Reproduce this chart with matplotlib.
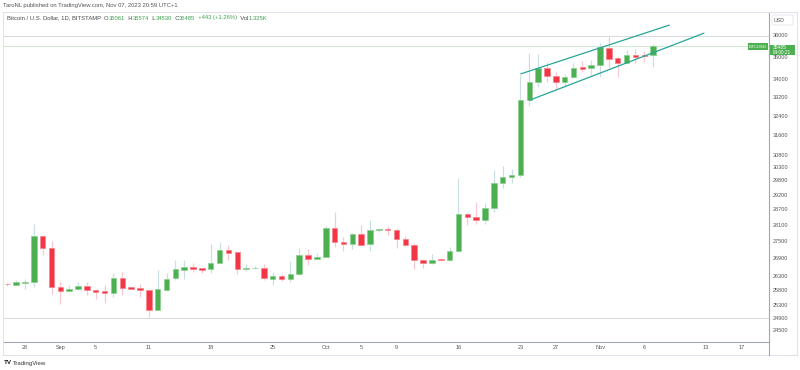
import matplotlib
matplotlib.use("Agg")
import matplotlib.pyplot as plt
import matplotlib.dates as mdates
import matplotlib.ticker as mticker
from matplotlib.patches import Rectangle, FancyBboxPatch
from matplotlib.lines import Line2D
import pandas as pd
import numpy as np

plt.rcParams['font.family'] = ['Liberation Sans', 'DejaVu Sans']

# ---------------- data ----------------
start_date = "2023-08-26"
opens = [26030, 25990, 26060, 26080, 27705, 27280, 25900, 25778, 25835, 25946,
         25812, 25778, 25720, 26228, 25902, 25868, 25820, 25135, 25812, 26217,
         26482, 26597, 26563, 26517, 26747, 27195, 27112, 26540, 26555, 26563,
         26193, 26276, 26172, 26345, 27006, 26886, 26936, 27974, 27490, 27397,
         27767, 27397, 27922, 27948, 27912, 27578, 27372, 26851, 26726, 26876,
         26830, 27148, 28501, 28390, 28291, 28714, 29667, 29900, 29977, 33059,
         33871, 34469, 34124, 33871, 34066, 34528, 34469, 34632, 35409, 34922,
         34695, 35073, 35080, 35061]
highs = [26050, 26140, 26195, 28120, 27720, 27505, 26116, 25970, 26092, 26072,
         25855, 25980, 26400, 26414, 25905, 26014, 25825, 26503, 26400, 26830,
         26840, 26735, 26570, 27408, 27480, 27372, 27120, 26700, 26620, 26711,
         26414, 26356, 26805, 27276, 27220, 27077, 28058, 28575, 27648, 27815,
         28095, 28268, 27959, 28070, 27985, 27706, 27444, 26860, 27063, 26922,
         27290, 29884, 28588, 28950, 28913, 30185, 30344, 30225, 34150, 35151,
         35105, 34740, 34318, 34200, 34722, 34800, 34860, 35612, 35920, 34996,
         35303, 35349, 35250, 35574]
lows = [25960, 25970, 25855, 25900, 27005, 25690, 25335, 25770, 25812, 25633,
        25520, 25377, 25586, 25633, 25840, 25586, 24907, 25130, 25770, 26150,
        26193, 26425, 26400, 26380, 26724, 26840, 26355, 26460, 26520, 26150,
        25980, 26106, 26092, 26335, 26677, 26880, 26930, 27312, 27168, 27220,
        27370, 27170, 27826, 27720, 27276, 27337, 26538, 26551, 26712, 26795,
        26820, 27112, 28084, 28132, 28132, 28587, 29474, 29667, 29900, 32828,
        33651, 33871, 33507, 33651, 34036, 34317, 34169, 34095, 34468, 34095,
        34690, 34695, 34770, 34530]
closes = [26000, 26070, 26090, 27705, 27280, 25900, 25770, 25855, 25946, 25800,
          25755, 25720, 26228, 25888, 25845, 25812, 25135, 25835, 26193, 26517,
          26597, 26528, 26504, 26747, 27183, 27100, 26538, 26563, 26575, 26228,
          26276, 26172, 26345, 27006, 26886, 26947, 27974, 27480, 27418, 27767,
          27380, 27922, 27959, 27900, 27578, 27372, 26851, 26726, 26851, 26830,
          27159, 28501, 28390, 28291, 28714, 29667, 29900, 29989, 33059, 33871,
          34469, 34124, 33871, 34066, 34496, 34452, 34618, 35427, 34904, 34695,
          35073, 34996, 35042, 35485]
volume_label = "1.325K"

# rising-wedge trend lines (date, price)
upper_line_dates = ["2023-10-23 00:00", "2023-11-08 21:00"]
upper_line_prices = [34214, 36473]
lower_line_dates = ["2023-10-24 00:00", "2023-11-12 19:00"]
lower_line_prices = [33059, 36094]

# horizontal levels
h_levels = [35930, 24900]

y_ticks = [36000, 35000, 34000, 33200, 32400, 31600, 30800, 30300, 29800, 29200,
           28700, 28100, 27500, 26900, 26300, 25800, 25300, 24900, 24500]
x_tick_dates = ["2023-08-28", "2023-09-01", "2023-09-05", "2023-09-11", "2023-09-18",
                "2023-09-25", "2023-10-01", "2023-10-05", "2023-10-09", "2023-10-16",
                "2023-10-23", "2023-10-27", "2023-11-01", "2023-11-06", "2023-11-13",
                "2023-11-17"]
x_tick_labels = ["28", "Sep", "5", "11", "18", "25", "Oct", "5", "9", "16", "23", "27",
                 "Nov", "6", "13", "17"]

# ---------------- figure ----------------
W, H = 800, 370
fig = plt.figure(figsize=(W / 100, H / 100), dpi=100)
fig.patch.set_facecolor("white")

def fx(px):
    return px / W

def fy(py):
    return 1 - py / H

ax = fig.add_axes([fx(4), fy(342), fx(769) - fx(4), fy(12) - fy(342)])
ax.set_facecolor("white")

dates = mdates.date2num(pd.date_range(start_date, periods=len(opens)).to_pydatetime())

GREEN = "#4caf50"
RED = "#f23645"
GREEN_EDGE = "#8bcf8e"
RED_EDGE = "#f7828c"
GREEN_WICK = "#c9dfe4"
RED_WICK = "#f9c8ce"

o = np.array(opens, float)
c = np.array(closes, float)
hi = np.array(highs, float)
lo = np.array(lows, float)
up = c >= o

ax.vlines(dates[up], lo[up], hi[up], color=GREEN_WICK, lw=0.9, zorder=2)
ax.vlines(dates[~up], lo[~up], hi[~up], color=RED_WICK, lw=0.9, zorder=2)

bottoms = np.minimum(o, c)
heights = np.abs(c - o)
ax.bar(dates[up], heights[up], bottom=bottoms[up], width=0.62, color=GREEN,
       edgecolor=GREEN_EDGE, linewidth=0.5, zorder=3)
ax.bar(dates[~up], heights[~up], bottom=bottoms[~up], width=0.62, color=RED,
       edgecolor=RED_EDGE, linewidth=0.5, zorder=3)

for lvl in h_levels:
    ax.axhline(lvl, color="#d6d8de", lw=0.7, zorder=1)
ax.axhline(closes[-1], color=GREEN, lw=0.6, alpha=0.3, zorder=1)

TEAL = "#26a69a"
ax.plot(mdates.date2num(pd.to_datetime(upper_line_dates).to_pydatetime()), upper_line_prices,
        color=TEAL, lw=0.9, zorder=4, solid_capstyle="butt")
ax.plot(mdates.date2num(pd.to_datetime(lower_line_dates).to_pydatetime()), lower_line_prices,
        color=TEAL, lw=0.9, zorder=4, solid_capstyle="butt")

ax.set_yscale("log")
ax.set_ylim(24118, 37097)
ax.set_xlim(dates[0] - 0.37, dates[0] + 86.1)

ax.yaxis.tick_right()
ax.yaxis.set_major_locator(mticker.FixedLocator(y_ticks))
ax.yaxis.set_major_formatter(mticker.FixedFormatter([str(v) for v in y_ticks]))
ax.yaxis.set_minor_locator(mticker.NullLocator())
ax.yaxis.set_minor_formatter(mticker.NullFormatter())
ax.tick_params(axis="y", length=0, pad=3, labelsize=4, labelcolor="#555555")

ax.set_xticks(mdates.date2num(pd.to_datetime(x_tick_dates).to_pydatetime()))
ax.set_xticklabels(x_tick_labels)
ax.tick_params(axis="x", length=0, pad=2.5, labelsize=4, labelcolor="#555555")

for s in ["left", "top"]:
    ax.spines[s].set_visible(False)
for s in ["right", "bottom"]:
    ax.spines[s].set_color("#a3a6ae")
    ax.spines[s].set_linewidth(0.8)

# outer frame of the pane
frame_color = "#e0e3eb"
fig.add_artist(Line2D([fx(3), fx(797)], [fy(12), fy(12)], color=frame_color, lw=0.8))
fig.add_artist(Line2D([fx(3), fx(797)], [fy(355), fy(355)], color=frame_color, lw=0.8))
fig.add_artist(Line2D([fx(3), fx(3)], [fy(12), fy(355)], color=frame_color, lw=0.8))
fig.add_artist(Line2D([fx(797), fx(797)], [fy(12), fy(355)], color=frame_color, lw=0.8))
fig.add_artist(Line2D([fx(769), fx(769)], [fy(342), fy(355)], color="#a3a6ae", lw=0.8))

# header
fig.text(fx(3), fy(6), "TaroNL published on TradingView.com, Nov 07, 2023 20:59 UTC+1",
         fontsize=4.2, color="#555555", va="center", ha="left")

# legend line with OHLC values
chg = closes[-1] - closes[-2]
pct = chg / closes[-2] * 100
DARK = "#4a4a4a"
LG = "#3fa34d"
pieces = [("Bitcoin / U.S. Dollar, 1D, BITSTAMP  ", DARK),
          ("O", DARK), (f"{opens[-1]}", LG),
          ("  H", DARK), (f"{highs[-1]}", LG),
          ("  L", DARK), (f"{lows[-1]}", LG),
          ("  C", DARK), (f"{closes[-1]}", LG),
          (f"  {chg:+d} ({pct:+.2f}%)", LG),
          ("  Vol", DARK), (volume_label, LG)]
fig.canvas.draw()
renderer = fig.canvas.get_renderer()
xpos = 7
for txt, col in pieces:
    t = fig.text(fx(xpos), fy(18), txt, fontsize=4.2, color=col, va="center", ha="left")
    bb = t.get_window_extent(renderer=renderer)
    xpos += bb.width

# USD box
fig.add_artist(FancyBboxPatch((fx(772), fy(25)), fx(21), fy(15) - fy(25),
                              boxstyle="round,pad=0,rounding_size=0.003",
                              facecolor="white", edgecolor="#e0e3eb", lw=0.6))
fig.text(fx(774), fy(20), "USD", fontsize=3.8, color="#555555", va="center", ha="left")

# last price label on the axis
fig.add_artist(Rectangle((fx(770), fy(54.5)), fx(25), fy(44.5) - fy(54.5),
                         facecolor=GREEN, edgecolor="none", zorder=5))
fig.text(fx(773), fy(47.3), f"{closes[-1]}", fontsize=3.6, color="white",
         va="center", ha="left", zorder=6)
fig.text(fx(773), fy(52.0), "04:00:21", fontsize=3.4, color="white",
         va="center", ha="left", zorder=6)

# symbol label
fig.add_artist(Rectangle((fx(748), fy(50)), fx(20), fy(43) - fy(50),
                         facecolor=GREEN, edgecolor="none", zorder=5))
fig.text(fx(758), fy(46.5), "BTCUSD", fontsize=3.2, color="white",
         va="center", ha="center", zorder=6)

# footer logo
fig.text(fx(4), fy(363), "TV", fontsize=4.5, color="#131722", fontweight="bold",
         va="center", ha="left")
fig.text(fx(13), fy(363), "TradingView", fontsize=4.3, color="#333333",
         va="center", ha="left")

fig.savefig("out.png", dpi=100)
